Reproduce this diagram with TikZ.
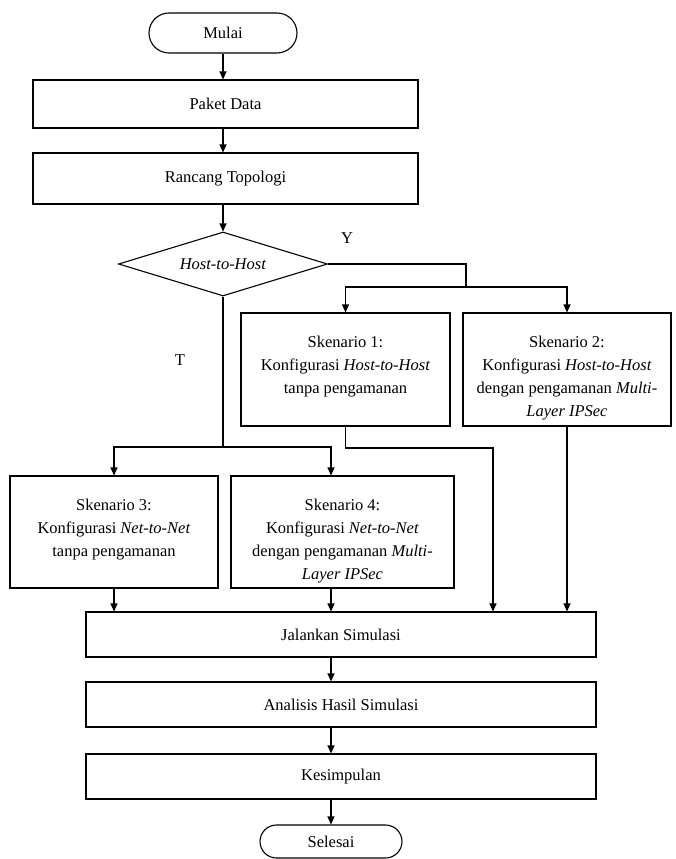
\documentclass[tikz,border=0pt]{standalone}
\usepackage{fontspec}
\setmainfont{Liberation Serif}
\usetikzlibrary{shapes.geometric,shapes.misc,arrows.meta}
\begin{document}
\begin{tikzpicture}[x=1pt,y=-1pt,
  every node/.style={font=\fontsize{16.5}{23}\selectfont},
  box/.style={draw, line width=1.1pt, inner sep=0pt},
  term/.style={draw, line width=1.1pt, rounded rectangle, inner sep=0pt},
  dec/.style={draw, line width=1.1pt, diamond, aspect=3.27, inner sep=0pt},
  stxt/.style={align=center, inner sep=0pt, anchor=north},
  arr/.style={line width=1.1pt, -{Triangle[length=8pt,width=7pt]}},
  ln/.style={line width=1.1pt}]
\useasboundingbox (0,0) rectangle (675,859);
\node[term, minimum width=148pt, minimum height=40pt] (mulai) at (223,33) {Mulai};
\node[box, minimum width=385pt, minimum height=48pt] (paket) at (225.5,104) {Paket Data};
\node[box, minimum width=385pt, minimum height=51pt] (rancang) at (225.5,178.5) {Rancang Topologi};
\node[dec, minimum width=209pt, minimum height=64pt] (dec) at (223,264) {\textit{Host-to-Host}};
\node (ylab) at (347,238) {Y};
\node (tlab) at (180,360) {T};
\node[box, minimum width=209pt, minimum height=113pt] (s1) at (345.5,369.5) {};
\node[box, minimum width=208pt, minimum height=113pt] (s2) at (567,369.5) {};
\node[box, minimum width=208pt, minimum height=112pt] (s3) at (114,532) {};
\node[box, minimum width=223pt, minimum height=112pt] (s4) at (342.5,532) {};
\node[stxt] (s1t) at ([yshift=-23pt]s1.north) {Skenario 1:\\Konfigurasi \textit{Host-to-Host}\\tanpa pengamanan};
\node[stxt] (s2t) at ([yshift=-23pt]s2.north) {Skenario 2:\\Konfigurasi \textit{Host-to-Host}\\dengan pengamanan \textit{Multi-}\\\textit{Layer IPSec}};
\node[stxt] (s3t) at ([yshift=-23pt]s3.north) {Skenario 3:\\Konfigurasi \textit{Net-to-Net}\\tanpa pengamanan};
\node[stxt] (s4t) at ([yshift=-23pt]s4.north) {Skenario 4:\\Konfigurasi \textit{Net-to-Net}\\dengan pengamanan \textit{Multi-}\\\textit{Layer IPSec}};
\node[box, minimum width=510pt, minimum height=45pt] (jal) at (341,634.5) {Jalankan Simulasi};
\node[box, minimum width=510pt, minimum height=45pt] (ana) at (341,704.5) {Analisis Hasil Simulasi};
\node[box, minimum width=510pt, minimum height=45pt] (kes) at (341,776.5) {Kesimpulan};
\node[term, minimum width=142pt, minimum height=33pt] (sel) at (331,841.5) {Selesai};
\coordinate (ysplit) at (466,287);
\coordinate (tsplit) at (223,447);
\coordinate (s1turn) at (493,448);
\draw[arr] (mulai.south) -- (mulai.south |- paket.north);
\draw[arr] (mulai.south |- paket.south) -- (mulai.south |- rancang.north);
\draw[arr] (mulai.south |- rancang.south) -- (dec.north);
\draw[ln] (dec.east) -| (ysplit);
\draw[arr] (ysplit) -| (s1.north);
\draw[arr] (ysplit) -| (s2.north);
\draw[ln] (dec.south) -- (tsplit);
\draw[arr] (tsplit) -| (s3.north);
\draw[arr] (tsplit) -| ([xshift=-11.5pt]s4.north);
\draw[arr] (s1.south) |- (s1turn) -- (s1turn |- jal.north);
\draw[arr] (s2.south) -- (s2.south |- jal.north);
\draw[arr] (s3.south) -- (s3.south |- jal.north);
\draw[arr] ([xshift=-11.5pt]s4.south) -- ([xshift=-11.5pt]s4.south |- jal.north);
\draw[arr] ([xshift=-10pt]jal.south) -- ([xshift=-10pt]ana.north);
\draw[arr] ([xshift=-10pt]ana.south) -- ([xshift=-10pt]kes.north);
\draw[arr] ([xshift=-10pt]kes.south) -- (sel.north);
\end{tikzpicture}
\end{document}
